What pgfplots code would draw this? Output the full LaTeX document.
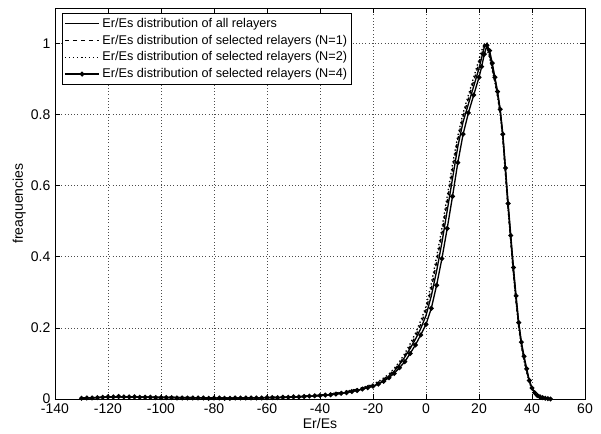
\documentclass[border=0pt]{standalone}
\usepackage{fontspec}
\setmainfont{Liberation Sans}
\usepackage{pgfplots}
\pgfplotsset{compat=1.18}

\begin{document}
\begin{tikzpicture}
\begin{axis}[
scale only axis,
width=397.5pt, height=293.25pt,
xmin=-140, xmax=60,
ymin=0, ymax=1.1,
xtick={-140,-120,...,60},
ytick={0,0.2,0.4,0.6,0.8,1},
yticklabels={0,0.2,0.4,0.6,0.8,1},
xmajorgrids=true, ymajorgrids=true,
grid style={dotted, black!70, line width=0.6pt},
tick align=inside,
major tick length=4pt,
every tick/.style={black, line width=0.6pt},
axis line style={line width=0.6pt},
/pgf/number format/assume math mode=true,
tick label style={font=\fontsize{10.5}{12}\selectfont},
label style={font=\fontsize{10.5}{12}\selectfont},
xlabel={Er/Es},
ylabel={freaquencies},
xlabel style={yshift=3pt},
ylabel style={yshift=-3pt},
legend style={at={(0.013,0.987)}, anchor=north west, draw=black, line width=0.6pt,
  font=\fontsize{9.5}{11}\selectfont, row sep=0.2pt, inner sep=1.5pt,
  legend cell align=left},
legend image code/.code={\draw[mark repeat=2,mark phase=2,#1] plot coordinates {(0cm,0cm) (0.45cm,0cm) (0.9cm,0cm)};},
]
% all relayers
\addplot[black, line width=1pt] coordinates {
(-130,0.003)(-125,0.004)(-120,0.006)(-115,0.006)(-110,0.006)(-105,0.005)(-100,0.005)
(-90,0.004)(-80,0.003)(-70,0.003)(-60,0.004)(-50,0.005)(-45,0.007)(-40,0.009)
(-36,0.012)(-32,0.016)(-28,0.021)(-24,0.028)(-20,0.036)(-18,0.043)(-16,0.052)
(-14,0.063)(-12,0.078)(-10,0.097)(-8,0.118)(-6,0.142)(-4,0.168)(-2,0.198)
(0,0.235)(2,0.29)(4,0.36)(6,0.44)(8,0.53)(10,0.62)(12,0.71)(14,0.78)(16,0.83)
(18,0.88)(20,0.93)(21,0.96)(22,0.99)(23,1.0)(24,0.97)(25,0.935)(26,0.9)(27,0.86)
(28,0.81)(29,0.74)(30,0.64)(31,0.54)(32,0.45)(33,0.36)(34,0.28)(35,0.21)(36,0.155)
(37,0.115)(38,0.08)(39,0.05)(40,0.03)(41,0.017)(42,0.009)(43,0.005)(44,0.003)
(45,0.002)(46,0.001)(47,0)};
% N=1
\addplot[black, line width=1pt, dashed] coordinates {
(-130,0.002)(-120,0.005)(-110,0.006)(-100,0.005)(-90,0.004)(-80,0.003)(-70,0.003)
(-60,0.004)(-50,0.006)(-40,0.011)(-36,0.014)(-32,0.018)(-28,0.024)(-24,0.031)
(-20,0.04)(-18,0.047)(-16,0.056)(-14,0.067)(-12,0.082)(-10,0.10)(-8,0.122)
(-6,0.148)(-4,0.176)(-2,0.21)(0,0.25)(2,0.31)(4,0.385)(6,0.465)(8,0.555)(10,0.645)
(12,0.73)(14,0.795)(16,0.845)(18,0.895)(20,0.945)(21,0.97)(22,1.0)(23,0.99)
(24,0.965)(25,0.93)(26,0.895)(27,0.855)(28,0.805)(29,0.735)(30,0.635)(31,0.535)
(32,0.445)(33,0.355)(34,0.275)(35,0.205)(36,0.152)(37,0.112)(38,0.078)(39,0.048)
(40,0.028)(41,0.016)(42,0.009)(43,0.005)(44,0.003)(45,0.002)(46,0.001)(47,0)};
% N=2
\addplot[black, line width=1pt, dotted] coordinates {
(-130,0.002)(-120,0.005)(-110,0.006)(-100,0.005)(-90,0.004)(-80,0.003)(-70,0.003)
(-60,0.004)(-50,0.006)(-40,0.011)(-36,0.015)(-32,0.019)(-28,0.025)(-24,0.032)
(-20,0.042)(-18,0.049)(-16,0.059)(-14,0.07)(-12,0.086)(-10,0.105)(-8,0.128)
(-6,0.155)(-4,0.185)(-2,0.22)(0,0.26)(2,0.325)(4,0.40)(6,0.48)(8,0.57)(10,0.66)
(12,0.74)(14,0.805)(16,0.855)(18,0.905)(20,0.955)(21,0.98)(22,1.0)(23,0.985)
(24,0.96)(25,0.925)(26,0.89)(27,0.85)(28,0.8)(29,0.73)(30,0.63)(31,0.53)
(32,0.44)(33,0.35)(34,0.27)(35,0.2)(36,0.148)(37,0.108)(38,0.075)(39,0.046)
(40,0.027)(41,0.015)(42,0.008)(43,0.005)(44,0.003)(45,0.002)(46,0.001)(47,0)};
% N=4
\addplot[black, line width=1pt, mark=*, mark size=1.3pt] coordinates {
(-130,0.002)(-128,0.003)(-126,0.003)(-124,0.004)(-122,0.005)(-120,0.006)(-118,0.006)
(-116,0.007)(-114,0.006)(-112,0.006)(-110,0.006)(-108,0.005)(-106,0.005)(-104,0.005)
(-102,0.004)(-100,0.004)(-98,0.004)(-96,0.004)(-94,0.003)(-92,0.003)(-90,0.003)
(-88,0.003)(-86,0.003)(-84,0.003)(-82,0.002)(-80,0.003)(-78,0.003)(-76,0.002)
(-74,0.002)(-72,0.003)(-70,0.003)(-68,0.003)(-66,0.003)(-64,0.003)(-62,0.003)
(-60,0.004)(-58,0.004)(-56,0.004)(-54,0.005)(-52,0.005)(-50,0.006)(-48,0.006)
(-46,0.007)(-44,0.008)(-42,0.009)(-40,0.010)(-38,0.011)(-36,0.012)(-34,0.014)
(-32,0.016)(-30,0.018)(-28,0.021)(-26,0.024)(-24,0.028)(-22,0.032)(-20,0.036)
(-18,0.042)(-16,0.05)(-14,0.06)(-12,0.072)(-10,0.088)(-8,0.105)(-6,0.128)
(-4,0.152)(-2,0.18)(0,0.21)(2,0.255)(4,0.32)(6,0.395)(8,0.48)(10,0.57)(12,0.665)
(14,0.745)(16,0.805)(18,0.855)(20,0.905)(21,0.935)(22,0.97)(23,0.995)(24,0.98)
(25,0.945)(26,0.905)(27,0.865)(28,0.815)(29,0.745)(30,0.65)(31,0.55)(32,0.46)
(33,0.37)(34,0.29)(35,0.215)(36,0.16)(37,0.12)(38,0.085)(39,0.052)(40,0.031)
(41,0.018)(42,0.01)(43,0.006)(44,0.004)(45,0.002)(46,0.001)(47,0)};
\legend{Er/Es distribution of all relayers,
Er/Es distribution of selected relayers (N=1),
Er/Es distribution of selected relayers (N=2),
Er/Es distribution of selected relayers (N=4)}
\end{axis}
\pgfresetboundingbox
\path[use as bounding box] ([xshift=-41.25pt,yshift=-25.5pt]current axis.south west)
  rectangle ([xshift=12pt,yshift=6pt]current axis.north east);
\end{tikzpicture}
\end{document}
